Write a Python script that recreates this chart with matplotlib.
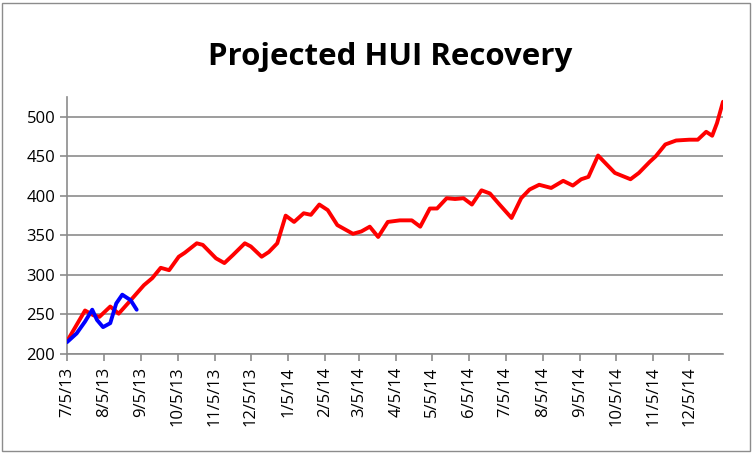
import matplotlib
matplotlib.use("Agg")
from matplotlib import pyplot as plt
from matplotlib.patches import Rectangle
import numpy as np
import pandas as pd

# projected HUI path (red)
red_dates = ['2013-07-05', '2013-07-20', '2013-07-27', '2013-08-01', '2013-08-10',
             '2013-08-17', '2013-08-27', '2013-09-07', '2013-09-14', '2013-09-21',
             '2013-09-28', '2013-10-06', '2013-10-11', '2013-10-21', '2013-10-26',
             '2013-11-06', '2013-11-13', '2013-11-20', '2013-11-30', '2013-12-05',
             '2013-12-14', '2013-12-20', '2013-12-27', '2014-01-03', '2014-01-10',
             '2014-01-18', '2014-01-24', '2014-01-31', '2014-02-07', '2014-02-15',
             '2014-02-28', '2014-03-07', '2014-03-14', '2014-03-21', '2014-03-29',
             '2014-04-08', '2014-04-18', '2014-04-25', '2014-05-03', '2014-05-09',
             '2014-05-17', '2014-05-24', '2014-05-31', '2014-06-07', '2014-06-15',
             '2014-06-22', '2014-06-30', '2014-07-10', '2014-07-18', '2014-07-25',
             '2014-08-02', '2014-08-12', '2014-08-22', '2014-08-30', '2014-09-06',
             '2014-09-12', '2014-09-20', '2014-10-04', '2014-10-17', '2014-10-24',
             '2014-11-02', '2014-11-07', '2014-11-15', '2014-11-24', '2014-12-05',
             '2014-12-12', '2014-12-19', '2014-12-24', '2014-12-28', '2015-01-02']
red_vals = [216, 255, 249, 247, 260,
            251, 268, 287, 296, 309,
            306, 323, 328, 340, 338,
            321, 315, 325, 340, 336,
            323, 329, 340, 375, 367,
            378, 376, 389, 382, 363,
            352, 355, 361, 348, 367,
            369, 369, 361, 384, 384,
            397, 396, 397, 389, 407,
            403, 389, 372, 397, 408,
            414, 410, 419, 413, 421,
            424, 451, 429, 421, 429,
            443, 450, 465, 470, 471,
            471, 481, 476, 492, 519]

# actual HUI so far (blue)
blue_dates = ['2013-07-05', '2013-07-13', '2013-07-20', '2013-07-26', '2013-07-30',
              '2013-08-04', '2013-08-10', '2013-08-15', '2013-08-20', '2013-08-27',
              '2013-09-01']
blue_vals = [215, 226, 241, 256, 243, 234, 239, 264, 275, 268, 256]

tick_dates = pd.date_range('2013-07-01', '2014-12-01', freq='MS') + pd.Timedelta(days=4)
tick_labels = [f"{d.month}/{d.day}/{d.strftime('%y')}" for d in tick_dates]

plt.rcParams['font.family'] = ['Open Sans', 'DejaVu Sans']

fig = plt.figure(figsize=(7.53, 4.53), dpi=100)
ax = fig.add_axes([67/753, 1-354/453, (723-67)/753, (354-97)/453])

fig.patches.append(Rectangle((2/753, 2/453), 748/753, 448/453, transform=fig.transFigure,
                             fill=False, edgecolor='#8c8c8c', linewidth=1.0))

ax.plot(pd.to_datetime(red_dates), red_vals, color='#ff0000', lw=2.8,
        solid_joinstyle='round', solid_capstyle='round', zorder=3)
ax.plot(pd.to_datetime(blue_dates), blue_vals, color='#0000ff', lw=2.8,
        solid_joinstyle='round', solid_capstyle='round', zorder=4)

ax.set_ylim(200, 525)
ax.set_yticks(np.arange(200, 501, 50))
ax.set_xlim(pd.Timestamp('2013-07-05'), pd.Timestamp('2015-01-02'))
ax.set_xticks(tick_dates)
ax.set_xticklabels(tick_labels, rotation=90)
ax.yaxis.grid(True, color='#8c8c8c', lw=1.2)
ax.set_axisbelow(True)

for s in ['top', 'right']:
    ax.spines[s].set_visible(False)
for s in ['left', 'bottom']:
    ax.spines[s].set_color('#8c8c8c')
    ax.spines[s].set_linewidth(1.2)
ax.tick_params(axis='both', colors='#8c8c8c', width=1.2, length=5, labelsize=12,
               labelcolor='black')
ax.tick_params(axis='x', pad=4)

fig.text(0.518, 0.875, 'Projected HUI Recovery', ha='center', va='center',
         fontsize=22.5, fontweight='bold')

fig.savefig('out.png', dpi=100)
